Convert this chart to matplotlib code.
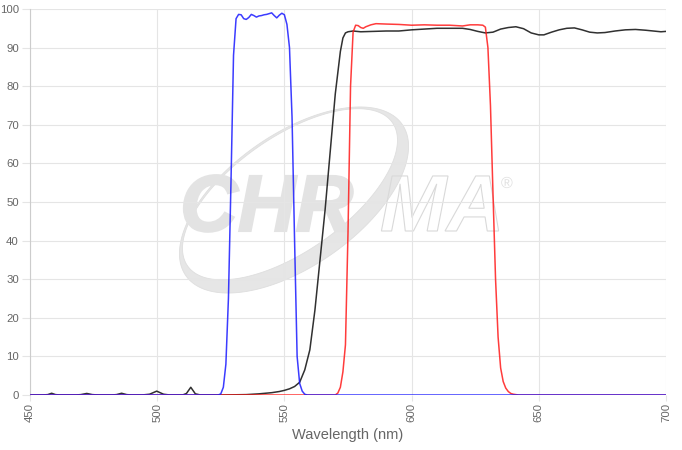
import numpy as np
import matplotlib
matplotlib.use("Agg")
import matplotlib.pyplot as plt
from matplotlib.path import Path
from matplotlib.patches import PathPatch
from matplotlib.textpath import TextPath
from matplotlib.font_manager import FontProperties
from matplotlib.transforms import IdentityTransform, Affine2D

# transmission spectra (wavelength nm, %T)
blue_nm = [450, 524, 525, 526, 527, 528, 529, 530, 531, 532, 533, 534, 535, 536, 537,
           538, 539, 540, 541, 542, 543, 544, 545, 546, 547, 548, 549, 550, 551, 552,
           553, 554, 555, 556, 557, 558, 559, 700]
blue_t = [0, 0, 0.3, 2, 8, 25, 55, 88, 97.5, 98.6, 98.5, 97.5, 97.3, 97.8, 98.6,
          98.3, 97.9, 98.2, 98.3, 98.5, 98.6, 98.8, 99.0, 98.3, 97.7, 98.4, 98.9, 98.5, 96, 90,
          72, 40, 10, 3, 1, 0.2, 0, 0]

black_nm = [450, 455, 457, 458.5, 460, 462, 468, 470, 472.3, 474.5, 477, 482, 484, 486, 488, 490,
            494, 497, 499.8, 502.5, 505, 510, 511.5, 513.2, 515, 517, 525, 530, 535, 540, 545,
            548, 550, 552, 554, 556, 558, 560, 562, 564, 566, 568, 570, 572, 573, 574, 575,
            577, 580, 585, 590, 595, 600, 605, 610, 615, 620, 623, 626, 629, 632, 635, 638,
            641, 644, 647, 650, 652, 655, 658, 661, 664, 667, 670, 673, 676, 680, 684, 688,
            692, 695, 698, 700]
black_t = [0, 0, 0.1, 0.45, 0.1, 0, 0, 0.1, 0.4, 0.1, 0, 0, 0.1, 0.45, 0.1, 0,
           0, 0.2, 1.0, 0.2, 0, 0, 0.4, 2.0, 0.3, 0, 0, 0.05, 0.1, 0.3, 0.6,
           0.9, 1.2, 1.6, 2.2, 3.3, 6.5, 11.7, 22, 35, 48, 63, 78, 89, 92.5, 93.8, 94.1,
           94.3, 94.1, 94.2, 94.3, 94.3, 94.6, 94.8, 95.0, 95.0, 95.0, 94.7, 94.2, 93.8, 94.0, 94.8, 95.2,
           95.4, 94.9, 93.8, 93.3, 93.3, 94.0, 94.6, 95.0, 95.1, 94.6, 94.0, 93.8, 93.9, 94.3, 94.6, 94.7,
           94.5, 94.3, 94.1, 94.2]

red_nm = [450, 570, 571, 572, 573, 574, 575, 576, 577, 578, 579, 580, 581, 582, 584,
          586, 590, 595, 600, 605, 610, 615, 620, 623, 626, 628, 629, 630, 631, 632,
          633, 634, 635, 636, 637, 638, 639, 640, 642, 700]
red_t = [0, 0, 0.5, 2, 6, 13, 42, 80, 94, 95.8, 95.7, 95.2, 95.0, 95.4, 95.9,
         96.2, 96.1, 96.0, 95.8, 95.9, 95.8, 95.8, 95.6, 95.9, 95.9, 95.8, 95.3, 90, 75, 52,
         30, 15, 7, 3.5, 1.8, 0.9, 0.4, 0.2, 0, 0]

x_ticks = [450, 500, 550, 600, 650, 700]
y_ticks = list(range(0, 101, 10))

W, H = 682, 450
fig = plt.figure(figsize=(W / 100, H / 100), dpi=100)
ax = fig.add_axes([30 / W, (H - 395) / H, 636 / W, 386 / H])

grey = "#666666"
gridc = "#e5e5e5"

# --- watermark (pixel coordinates, y up) ---
def ell(cx, cy, a, b, ang, n=240):
    t = np.linspace(0, 2 * np.pi, n)
    x, y = a * np.cos(t), b * np.sin(t)
    c, s = np.cos(np.radians(ang)), np.sin(np.radians(ang))
    return np.column_stack([cx + x * c - y * s, cy + x * s + y * c])

ang = 35
cx, cy = 294, H - 200
nx, ny = -np.sin(np.radians(ang)), np.cos(np.radians(ang))
outer = ell(cx, cy, 132, 66, ang)
inner = ell(cx + 7 * nx, cy + 7 * ny, 125, 57, ang)[::-1]
verts = np.vstack([outer, inner])
codes = ([Path.MOVETO] + [Path.LINETO] * (len(outer) - 1)
         + [Path.MOVETO] + [Path.LINETO] * (len(inner) - 1))
ax.add_patch(PathPatch(Path(verts, codes), transform=IdentityTransform(),
                       facecolor="#e6e6e6", edgecolor="#dedede", lw=0.6, zorder=0.1))

fp = FontProperties(family="Liberation Sans", weight="bold", style="italic")
tp = TextPath((0, 0), "CHR", size=80, prop=fp)
ax.add_patch(PathPatch(tp, transform=Affine2D().translate(180, H - 231) + IdentityTransform(),
                       facecolor="#e3e3e3", edgecolor="#e3e3e3", lw=1.5, zorder=0.1))
tp2 = TextPath((0, 0), "MA", size=80, prop=fp)
ax.add_patch(PathPatch(tp2, transform=Affine2D().translate(380, H - 231) + IdentityTransform(),
                       facecolor="none", edgecolor="#d9d9d9", lw=0.8, zorder=0.1))
fp_r = FontProperties(family="Liberation Sans")
tp3 = TextPath((0, 0), "\u00ae", size=16, prop=fp_r)
ax.add_patch(PathPatch(tp3, transform=Affine2D().translate(501, H - 188) + IdentityTransform(),
                       facecolor="#e0e0e0", edgecolor="none", zorder=0.1))

# --- spectra ---
ax.plot(black_nm, black_t, color="#1a1a1a", lw=1.1, alpha=0.9, zorder=2)
ax.plot(red_nm, red_t, color="#ff1a1a", lw=1.1, alpha=0.85, zorder=3)
ax.plot(blue_nm, blue_t, color="#1a1aff", lw=1.1, alpha=0.85, zorder=4)

ax.set_xlim(450, 700)
ax.set_ylim(0, 100)
ax.set_xticks(x_ticks)
ax.set_yticks(y_ticks)
ax.set_xticklabels([str(v) for v in x_ticks], rotation=90)
ax.set_axisbelow(True)
ax.grid(True, color=gridc, lw=0.8)
for s in ["top", "right", "bottom"]:
    ax.spines[s].set_visible(False)
ax.spines["left"].set_color("#cccccc")
ax.spines["left"].set_linewidth(0.8)
ax.tick_params(axis="y", length=6, width=0.8, color=gridc, pad=2,
               labelsize=8.2, labelcolor=grey)
ax.tick_params(axis="x", length=4, width=0.8, color=gridc, pad=2,
               labelsize=8.2, labelcolor=grey)
for lab in ax.get_xticklabels() + ax.get_yticklabels():
    lab.set_fontfamily("Liberation Sans")
ax.set_xlabel("Wavelength (nm)", fontsize=10.5, color=grey, family="Liberation Sans",
              labelpad=4)

fig.savefig("out.png", dpi=100)
